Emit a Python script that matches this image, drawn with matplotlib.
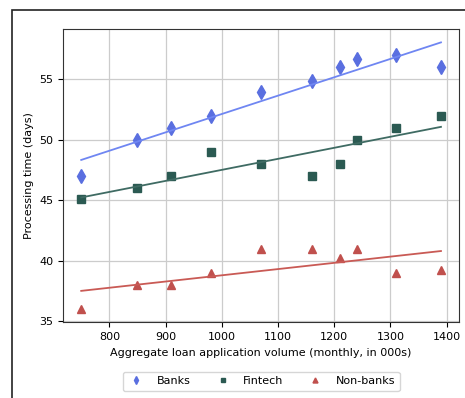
import numpy as np
import matplotlib.pyplot as plt
from matplotlib.patches import Rectangle

volume = [750, 850, 910, 980, 1070, 1160, 1210, 1240, 1310, 1390]
banks = [47, 50, 51, 52, 54, 54.9, 56, 56.7, 57, 56]
fintech = [45.1, 46, 47, 49, 48, 47, 48, 50, 51, 52]
nonbanks = [36, 38, 38, 39, 41, 41, 40.2, 41, 39, 39.2]

series = [
    ("Banks", banks, "d", "#5a6fe0", "#6f86f2", 7),
    ("Fintech", fintech, "s", "#2b5a52", "#3f6b63", 6),
    ("Non-banks", nonbanks, "^", "#c0504d", "#c95a55", 6),
]

fig = plt.figure(figsize=(4.65, 3.98), dpi=100)
ax = fig.add_axes([0.136, 0.19, 0.851, 0.737])

x = np.array(volume)
for name, vals, mk, col, lcol, ms in series:
    ax.plot(x, vals, linestyle="none", marker=mk, color=col, markersize=ms, label=name)
    k, b = np.polyfit(x, vals, 1)
    xs = np.array([x.min(), x.max()])
    ax.plot(xs, k * xs + b, color=lcol, linewidth=1.3)

ax.set_xticks([800, 900, 1000, 1100, 1200, 1300, 1400])
ax.set_yticks([35, 40, 45, 50, 55])
ax.grid(True, color="#cccccc", linewidth=0.9)
ax.set_axisbelow(True)
ax.tick_params(labelsize=8)
ax.set_xlabel("Aggregate loan application volume (monthly, in 000s)", fontsize=8)
ax.set_ylabel("Processing time (days)", fontsize=8)
for s in ax.spines.values():
    s.set_color("#333333")

ax.legend(loc="upper center", bbox_to_anchor=(0.5, -0.15), ncol=3, fontsize=8,
          markerscale=0.6, columnspacing=2.0, handletextpad=1.0, handlelength=1.7)

fig.patches.append(Rectangle((0.026, -0.1), 1.2, 1.075, transform=fig.transFigure,
                             fill=False, edgecolor="#222222", linewidth=1.2))

fig.savefig("out.png")
